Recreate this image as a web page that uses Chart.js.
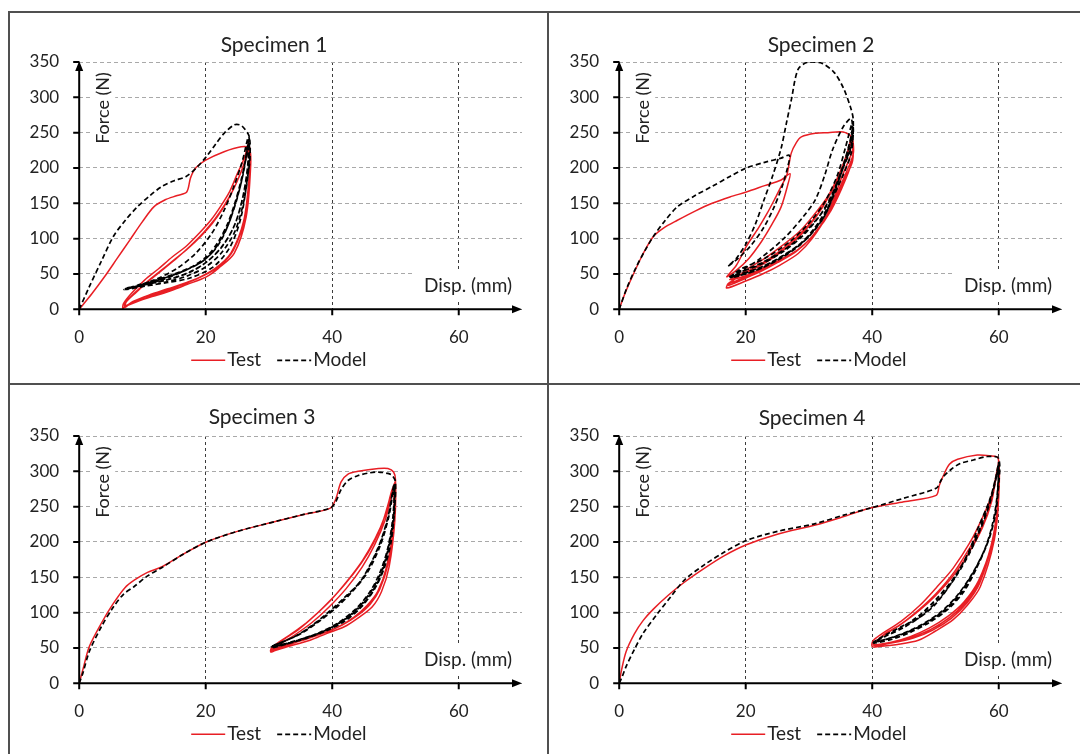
<!DOCTYPE html>
<html>
<head>
<meta charset="utf-8">
<title>Force - displacement, specimens 1-4</title>
<script src="https://cdn.jsdelivr.net/npm/chart.js@4.4.1/dist/chart.umd.min.js"></script>
<style>
  html, body { margin: 0; padding: 0; background: #fff; overflow: hidden; }
  .rule { position: absolute; background: #505050; }
  canvas { position: absolute; }
</style>
</head>
<body>
<div class="rule" style="left:8px;top:11px;width:1072px;height:2px"></div>
<div class="rule" style="left:8px;top:11px;width:2px;height:760px"></div>
<div class="rule" style="left:547px;top:11px;width:2px;height:760px"></div>
<div class="rule" style="left:8px;top:383px;width:1072px;height:2px"></div>

<canvas id="c1" width="530" height="370" style="left:10px;top:13px"></canvas>
<canvas id="c2" width="530" height="370" style="left:550px;top:13px"></canvas>
<canvas id="c3" width="530" height="370" style="left:10px;top:387px"></canvas>
<canvas id="c4" width="530" height="370" style="left:550px;top:387px"></canvas>

<script>
const seriesNames = ['Test', 'Model'];
const specimenTitles = ['Specimen 1', 'Specimen 2', 'Specimen 3', 'Specimen 4'];
const dispTicks = [0, 20, 40, 60];
const forceTicks = [0, 50, 100, 150, 200, 250, 300, 350];

// [disp (mm), force (N)]: first loading, then unload/reload cycles
const test1 = [
  [0,0],[2,22],[4,46],[6,72],[8,98],[10,124],[11.8,145],[13.6,155],[15.5,161],[17,166],[17.6,186],[18.4,200],[20,211],[22.9,223],[25.6,230],[26.9,228],
  [27.1,202],[26.4,131],[24.5,79],[22,58],[20.1,46],[17,35],[14.7,27],[12,19],[9.2,12],[7.4,5],[6.9,1],[7,8],
  [8.2,22],[10.3,41],[12.5,57],[14.7,74],[17,90],[19,108],[20.8,126],[22.3,145],[23.8,167],[25,192],[26.1,214],[26.8,234],
  [27,200],[26.3,133],[24.4,84],[22.3,62],[20,49],[17,38],[14,29],[11,20],[8.5,11],[7.2,4],[7.3,9],
  [8.6,22],[10.6,38],[12.8,54],[15,70],[17.2,86],[19.2,103],[21,121],[22.6,141],[24,163],[25.3,188],[26.3,211],[26.9,229],
  [27,196],[26.2,130],[24.3,83],[22,60],[19,45],[16,34],[13,25],[10,16],[8,8],[7.3,3],
  [7.4,10],[9,24],[11,40],[13.2,56],[15.5,73],[17.6,90],[19.6,108],[21.4,127],[23,148],[24.4,170],[25.6,195],[26.6,220],[27,228],
  [26.9,190],[26,125],[24,80],[21.5,58],[18.5,43],[15.5,32],[12.5,22],[9.5,12],[7.5,5]
];
const model1 = [
  [0,0],[1.6,32],[3.5,68],[5.4,103],[7.3,126],[9.2,145],[11.2,161],[13.1,174],[15,182],[16.9,188],[18.5,200],[20.1,216],[21.5,233],[22.9,249],[24.5,261],[25.4,261],[26.1,256],[26.9,244],
  [27,214],[26.7,192],[25.6,131],[23.9,89],[21.2,60],[17.4,44],[14,38],[10.5,33],[8,29],[7.1,28],
  [8.5,31],[12,42],[15.5,58],[18.5,80],[21,108],[22.9,140],[24.5,175],[25.8,210],[26.8,245],
  [26.8,200],[26,152],[24.6,110],[22.5,80],[20,60],[17,47],[13.5,38],[10,32],[7.3,28],
  [9.2,34],[12,41],[14.7,49],[17,57],[19,65],[21,80],[22.3,98],[23.6,120],[24.5,145],[25.5,175],[26.1,202],[26.8,240],
  [26.6,200],[25.8,156],[24.5,118],[22.5,88],[20,66],[17,51],[14,42],[10,34],[7.2,29],
  [9.2,33],[12,40],[14.7,48],[17.5,58],[19.5,68],[21.5,85],[22.8,104],[24,130],[25,158],[26,195],[26.8,236],
  [26.7,205],[25.9,160],[24.6,120],[22.7,90],[20.3,68],[17.4,52],[14,42],[10.5,35],[7.5,30],
  [8.6,31],[12.5,40],[15.5,50],[18,61],[20.3,76],[22,96],[23.4,120],[24.6,150],[25.6,183],[26.4,215],[26.9,242]
];

const test2 = [
  [0,0],[0.8,20],[2,45],[3.8,79],[5.4,103],[7,115],[9.2,126],[12,139],[14.7,150],[17.5,159],[20.1,166],[23,175],[25.6,183],[27,192],
  [26.7,178],[25.6,145],[24,118],[22.5,96],[20.5,72],[18.5,55],[17,46],
  [18.5,62],[20.1,89],[22,115],[23.4,136],[24.7,158],[25.6,174],[26.5,190],[27.2,221],[28,236],[28.8,244],[31,249],[33,250],[35.4,251],[36.7,244],
  [36.9,226],[35.4,192],[32.7,131],[30.5,100],[28.3,79],[25.5,63],[22.9,51],[20,40],[17,30],[17.2,36],
  [18.5,44],[20.1,56],[23,72],[25.6,89],[28.5,110],[31,136],[33,160],[34.8,192],[36,220],[36.8,243],
  [37,220],[35.6,188],[33,136],[30.5,103],[28,82],[25,66],[22.5,54],[20,44],[17.3,34],
  [19,48],[22,62],[25,80],[28,102],[30.5,125],[32.5,150],[34.5,182],[35.8,212],[36.8,238],
  [36.9,214],[35.8,184],[33.5,140],[31,108],[28.5,86],[25,68],[22,55],[19.5,46],[17.5,42],
  [18.5,46],[21.5,58],[24.5,74],[27.5,95],[30,118],[32.2,145],[34.2,178],[35.7,210],[36.8,240],
  [36.9,210],[35.5,182],[33.2,138],[30.8,106],[28.2,84],[25.2,67],[22.3,55],[19.5,44],[17.3,36]
];
const model2 = [
  [0,0],[1.2,30],[2.7,60],[4,82],[5.4,103],[7.2,125],[9.2,145],[12,161],[14.7,174],[17.5,188],[20.1,200],[23,208],[25.6,214],[26.9,218],
  [26.6,200],[25.8,175],[24.5,145],[22.8,115],[20.8,90],[18.8,72],[17.2,61],
  [18.5,72],[20,92],[21.5,120],[22.9,155],[24.3,190],[25.6,228],[26.4,262],[27.2,296],[28.3,340],[29.9,350],[32.1,348],[34,335],[35.5,312],[36.7,282],[37,268],
  [36.8,235],[35.4,202],[32.7,136],[30.5,108],[28.3,89],[25.5,72],[22.9,60],[20,50],[17.5,46],
  [19.5,56],[22,70],[26,100],[29,130],[31,155],[32.5,190],[33.7,225],[35.4,258],[36.7,270],
  [36.7,232],[35.2,198],[32.7,138],[30.3,106],[28,88],[25,70],[22.5,58],[20,50],[17.6,45],
  [19,56],[23,72],[27,96],[30,122],[32.5,152],[34.5,190],[35.8,230],[36.8,262],
  [36.6,228],[35.4,200],[32.7,136],[30,104],[28,88],[25,71],[22,58],[19,49],[17.6,45],
  [19.5,54],[23,68],[27,90],[30,115],[32.7,145],[34.8,185],[36.2,225],[37,258],
  [36.7,222],[35.5,192],[33.2,148],[30.8,114],[28.5,92],[25.5,74],[22.5,60],[19.5,51],[17.6,46],
  [19,52],[22.5,64],[26,82],[29,104],[31.5,130],[33.5,160],[35.2,198],[36.4,235],[37,262]
];

const test3 = [
  [0,0],[0.6,20],[1.6,52],[3.5,85],[5.4,113],[7.2,135],[8.7,146],[10.8,157],[13.1,165],[16.5,183],[20.1,200],[25,215],[31,229],[35.5,239],[39.7,248],[40.6,262],[41.4,285],[42.5,296],[44.1,300],[47.3,304],[48.8,304],[49.7,299],[50,288],
  [49.9,231],[49,165],[47.8,130],[46.3,108],[44,92],[41.9,80],[39,70],[36.5,61],[33,52],[30.3,45],[30.4,50],
  [31.5,58],[33.7,71],[36.5,90],[39.2,113],[42,140],[44.6,170],[46.5,198],[47.9,226],[49.5,274],[50,285],
  [49.8,228],[48.8,168],[47.5,133],[46,112],[44,96],[41.5,82],[38.5,71],[35.5,62],[32.5,54],[30.4,48],
  [32,60],[34.5,75],[37,94],[39.8,118],[42.3,144],[44.8,174],[46.8,205],[48.3,236],[49.6,276],
  [49.7,225],[48.6,165],[47.2,130],[45.5,110],[43.5,94],[41,80],[38,69],[35,60],[32,51],[30.3,44],
  [31.5,54],[34,68],[36.8,86],[39.5,108],[42.2,134],[44.7,164],[46.7,196],[48.4,232],[49.7,272],
  [49.8,222],[48.7,166],[47.3,131],[45.7,111],[43.7,95],[41.2,81],[38.2,70],[35.2,61],[32.2,52],[30.3,46]
];
const model3 = [
  [0,0],[0.6,15],[1.6,45],[3.5,80],[5.4,108],[7,126],[8.7,137],[10.8,152],[13.1,164],[16.5,183],[20.1,200],[25,215],[31,229],[35.5,239],[39.7,248],[40.5,256],[41.4,274],[42.5,287],[44.1,294],[46,298],[47.3,299],[48.8,297],[49.5,294],[50,285],
  [49.8,240],[49.3,200],[48.3,165],[46.8,135],[44.6,108],[42,88],[39,74],[36,64],[33,56],[30.4,50],
  [31.5,56],[34,66],[36.5,80],[39.2,99],[42,122],[44.6,146],[47.3,193],[48.8,235],[49.8,282],
  [49.8,238],[49,195],[48,160],[46.5,132],[44.3,107],[41.5,87],[38.5,73],[35.5,63],[32.5,55],[30.4,52],
  [32,58],[35,70],[38,88],[40.5,106],[43,128],[45.5,156],[47.6,195],[49,238],[49.8,280],
  [49.6,236],[48.8,192],[47.6,158],[46,130],[43.8,106],[41,86],[38,72],[35,62],[32,55],[30.4,53],
  [31.8,57],[34.5,68],[37.2,84],[39.8,102],[42.5,125],[45,151],[47.4,194],[48.9,236],[49.8,281],
  [49.7,237],[48.9,193],[47.8,159],[46.2,131],[44,106],[41.2,86],[38.2,72],[35.2,63],[32.2,55],[30.4,51]
];

const test4 = [
  [0,0],[0.4,20],[1.1,45],[2.4,70],[3.8,89],[5.4,105],[7.8,125],[10.3,143],[13.5,163],[16.5,180],[20.1,196],[25,211],[31,224],[35.5,236],[39.7,248],[45,257],[50.1,266],[50.6,280],[51.2,293],[52.2,310],[53.5,317],[56.6,323],[58.5,322],[59.9,319],
  [60,264],[59.3,203],[57.1,137],[55,110],[52.8,90],[50,74],[47.3,61],[44,55],[41,52],[40,52],[40.1,60],
  [41.5,70],[44.6,88],[47.5,110],[50.1,135],[52.8,163],[55.5,200],[57.3,232],[58.8,264],[59.8,300],[60,315],
  [59.9,258],[59,200],[57,142],[55,114],[52.5,92],[49.5,75],[46.5,64],[43,57],[40.2,54],
  [42,70],[44.6,84],[47.5,105],[50.1,127],[53,158],[55.5,193],[57.5,225],[58.8,260],[60,310],
  [59.8,252],[58.8,195],[56.8,145],[54.5,115],[52,95],[49,78],[46,66],[43,58],[40.2,55],
  [41.5,66],[44.3,82],[47.3,102],[50,124],[52.8,152],[55.3,185],[57.4,220],[58.9,258],[59.9,305],
  [59.9,255],[58.9,198],[56.9,143],[54.7,114],[52.2,93],[49.2,76],[46.2,65],[43,57],[40.2,54]
];
const model4 = [
  [0,0],[0.5,10],[1.1,24],[2.4,48],[3.8,71],[6,98],[8.2,123],[10.3,146],[13.5,168],[16.5,185],[20.1,202],[25,215],[31,226],[35.5,238],[39.7,248],[45,262],[50.1,276],[50.8,286],[51.2,292],[52.5,303],[53.9,311],[56,316],[58.2,321],[60,318],
  [59.9,272],[59.5,240],[58.5,205],[56.6,165],[54.5,130],[52,105],[49,86],[46,72],[43,62],[40.2,57],
  [41.5,64],[44,76],[47.3,95],[50,118],[52.8,148],[55,180],[56.6,210],[58.3,250],[59.5,290],[60,312],
  [59.8,268],[59.3,232],[58.2,198],[56.3,160],[54,127],[51.5,103],[48.5,85],[45.5,72],[42.5,63],[40.2,58],
  [42,68],[45,82],[47.3,92],[50,112],[52.8,146],[55.2,185],[56.6,217],[58.5,258],[59.6,292],[60,310],
  [59.7,262],[59,225],[57.8,190],[55.8,155],[53.5,125],[51,102],[48,84],[45,71],[42,62],[40.2,58],
  [42,66],[45,79],[48,97],[50.8,122],[53.3,152],[55.5,186],[57.2,220],[58.7,258],[59.7,295],[60,311],
  [59.8,265],[59.2,228],[58,194],[56,157],[53.7,126],[51.2,102],[48.2,84],[45.2,71],[42.2,62],[40.2,58]
];

const testSets = [test1, test2, test3, test4];
const modelSets = [model1, model2, model3, model4];
// where each panel's title sits in its canvas
const titlePos = [[264, 32], [271, 32], [252, 30], [262, 31]];

Chart.defaults.font.family = 'Lato, "Open Sans", sans-serif';
Chart.defaults.color = '#222';

const toXY = pts => pts.map(p => ({ x: p[0], y: p[1] }));

// titles, in-plot axis labels, legend row, axes with ticks and arrows
const decor = {
  id: 'decor',
  beforeDatasetsDraw(chart, args, opts) {
    const { ctx, chartArea: a } = chart;
    ctx.save();
    ctx.fillStyle = '#fff';
    ctx.fillRect(a.left + 11, a.top + 6, 25, 82);
    ctx.fillRect(a.right - 110, a.bottom - 38, 112, 29);
    ctx.fillStyle = '#222';
    ctx.textAlign = 'center';
    ctx.textBaseline = 'middle';
    ctx.font = '18px Lato';
    ctx.save();
    ctx.translate(a.left + 23.5, a.top + 46);
    ctx.rotate(-Math.PI / 2);
    ctx.fillText('Force (N)', 0, 0);
    ctx.restore();
    ctx.font = '19px Lato';
    ctx.textAlign = 'right';
    ctx.fillText('Disp. (mm)', a.right - 10, a.bottom - 23);
    ctx.textAlign = 'center';
    ctx.font = '21px Lato';
    ctx.fillText(opts.title, opts.tx, opts.ty);

    // legend: sample line right against its label
    ctx.font = '19px Lato';
    ctx.textAlign = 'left';
    let lx = a.left + 112;
    const ly = a.bottom + 51;
    chart.data.datasets.forEach(ds => {
      ctx.save();
      ctx.strokeStyle = ds.borderColor;
      ctx.lineWidth = ds.borderWidth;
      ctx.setLineDash(ds.borderDash || []);
      ctx.beginPath();
      ctx.moveTo(lx, ly); ctx.lineTo(lx + 34, ly);
      ctx.stroke();
      ctx.restore();
      ctx.fillText(ds.label, lx + 36, ly);
      lx += 36 + ctx.measureText(ds.label).width + 16;
    });
    ctx.restore();
  },
  afterDatasetsDraw(chart) {
    const { ctx, chartArea: a, scales: { x, y } } = chart;
    const x0 = x.getPixelForValue(0), y0 = y.getPixelForValue(0);
    ctx.save();
    ctx.strokeStyle = '#000';
    ctx.fillStyle = '#000';
    ctx.lineWidth = 2;
    ctx.beginPath();
    ctx.moveTo(x0 - 6, y0); ctx.lineTo(a.right - 7, y0);
    ctx.moveTo(x0, y0 + 6); ctx.lineTo(x0, a.top + 7);
    forceTicks.forEach(v => { const py = y.getPixelForValue(v); ctx.moveTo(x0 - 6, py); ctx.lineTo(x0, py); });
    dispTicks.forEach(v => { const px = x.getPixelForValue(v); ctx.moveTo(px, y0); ctx.lineTo(px, y0 + 6); });
    ctx.stroke();
    ctx.beginPath();
    ctx.moveTo(a.right, y0); ctx.lineTo(a.right - 10, y0 - 4); ctx.lineTo(a.right - 10, y0 + 4); ctx.closePath();
    ctx.moveTo(x0, a.top - 1); ctx.lineTo(x0 - 4, a.top + 9); ctx.lineTo(x0 + 4, a.top + 9); ctx.closePath();
    ctx.fill();
    ctx.restore();
  }
};

function drawPanel(i) {
  new Chart(document.getElementById('c' + (i + 1)), {
    type: 'scatter',
    data: {
      datasets: [
        {
          label: seriesNames[0], data: toXY(testSets[i]), showLine: true, order: 1,
          borderColor: 'rgb(232,30,36)', backgroundColor: 'rgb(232,30,36)', borderWidth: 1.5,
          pointRadius: 0, tension: 0.3
        },
        {
          label: seriesNames[1], data: toXY(modelSets[i]), showLine: true, order: 0,
          borderColor: '#000', backgroundColor: '#000', borderWidth: 1.7, borderDash: [5, 3],
          pointRadius: 0, tension: 0.3
        }
      ]
    },
    options: {
      responsive: false,
      animation: false,
      layout: { padding: { left: 0, right: 18, top: 49, bottom: 33.7 } },
      scales: {
        x: {
          type: 'linear', min: 0, max: 70,
          afterBuildTicks: s => { s.ticks = dispTicks.map(v => ({ value: v })); },
          afterFit: s => { s.height = 40; },
          grid: { color: '#3c3c3c', lineWidth: 1, drawTicks: false },
          border: { display: false, dash: [3, 3] },
          ticks: { padding: 18, font: { size: 17 } }
        },
        y: {
          min: 0, max: 350,
          afterBuildTicks: s => { s.ticks = forceTicks.map(v => ({ value: v })); },
          afterFit: s => { s.width = 69.2; },
          grid: { color: '#a9a9a9', lineWidth: 1, drawTicks: false },
          border: { display: false, dash: [4, 3] },
          ticks: { padding: 20, font: { size: 17 } }
        }
      },
      plugins: {
        title: { display: false },
        legend: { display: false },
        tooltip: { enabled: false },
        decor: { title: specimenTitles[i], tx: titlePos[i][0], ty: titlePos[i][1] }
      }
    },
    plugins: [decor]
  });
}

for (let i = 0; i < 4; i++) drawPanel(i);
</script>
</body>
</html>
